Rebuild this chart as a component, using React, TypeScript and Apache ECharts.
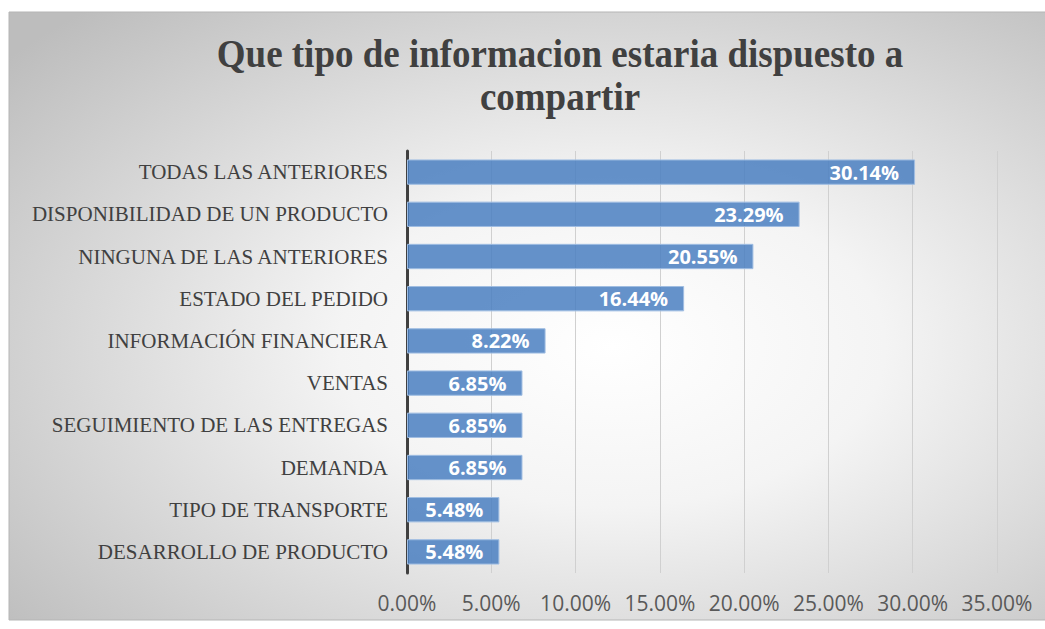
import React, { useEffect, useRef } from "react";
import * as echarts from "echarts";

const titleLines = ["Que tipo de informacion estaria dispuesto a", "compartir"];

const categories = [
  "TODAS LAS ANTERIORES",
  "DISPONIBILIDAD DE UN PRODUCTO",
  "NINGUNA DE LAS ANTERIORES",
  "ESTADO DEL PEDIDO",
  "INFORMACIÓN FINANCIERA",
  "VENTAS",
  "SEGUIMIENTO DE LAS ENTREGAS",
  "DEMANDA",
  "TIPO DE TRANSPORTE",
  "DESARROLLO DE PRODUCTO",
];

const values = [30.14, 23.29, 20.55, 16.44, 8.22, 6.85, 6.85, 6.85, 5.48, 5.48];

const axisMin = 0;
const axisMax = 35;
const axisStep = 5;

export default function App() {
  const ref = useRef<HTMLDivElement>(null);

  useEffect(() => {
    if (!ref.current) return;
    const chart = echarts.init(ref.current, null, { renderer: "svg" });
    const titleFont = "bold 37px 'Liberation Serif'";
    chart.setOption({
      animation: false,
      graphic: [
        {
          type: "rect",
          z: -10,
          silent: true,
          shape: { x: 9, y: 12, width: 1040, height: 608 },
          style: {
            fill: new echarts.graphic.RadialGradient(0.58, 0.55, 0.75, [
              { offset: 0, color: "#ffffff" },
              { offset: 0.35, color: "#f4f4f4" },
              { offset: 1, color: "#bdbdbd" },
            ]),
            stroke: "#b5b5b5",
            lineWidth: 1,
          },
        },
        {
          type: "text",
          x: 560,
          y: 34,
          scaleY: 1.08,
          silent: true,
          style: {
            text: titleLines[0],
            font: titleFont,
            fill: "#404040",
            align: "center",
            verticalAlign: "top",
          },
        },
        {
          type: "text",
          x: 560,
          y: 77,
          scaleY: 1.08,
          silent: true,
          style: {
            text: titleLines[1],
            font: titleFont,
            fill: "#404040",
            align: "center",
            verticalAlign: "top",
          },
        },
      ],
      grid: {
        left: 407,
        top: 151,
        width: 590,
        height: 422,
        containLabel: false,
      },
      xAxis: {
        type: "value",
        min: axisMin,
        max: axisMax,
        interval: axisStep,
        axisLine: { show: false },
        axisTick: { show: false },
        splitLine: { show: true, lineStyle: { color: "#d0d0d0", width: 1 } },
        axisLabel: {
          formatter: (v: number) => v.toFixed(2) + "%",
          fontFamily: "Open Sans",
          fontSize: 21,
          color: "#595959",
          margin: 19,
        },
      },
      yAxis: {
        type: "category",
        data: categories,
        inverse: true,
        axisLine: { show: true, lineStyle: { color: "#404040", width: 3 } },
        axisTick: { show: false },
        splitLine: { show: false },
        axisLabel: {
          fontFamily: "Liberation Serif",
          fontSize: 21,
          color: "#404040",
          margin: 19,
        },
      },
      series: [
        {
          type: "bar",
          data: values,
          barWidth: "60%",
          itemStyle: {
            color: "rgba(74,127,193,0.85)",
            borderColor: "#9fbde2",
            borderWidth: 1,
          },
          label: {
            show: true,
            position: "insideRight",
            distance: 16,
            formatter: (p: any) => Number(p.value).toFixed(2) + "%",
            fontFamily: "Open Sans",
            fontWeight: "bold",
            fontSize: 20,
            color: "#ffffff",
          },
        },
      ],
    });
    return () => chart.dispose();
  }, []);

  return (
    <div
      ref={ref}
      style={{ position: "absolute", left: 0, top: 0, width: 1045, height: 629 }}
    />
  );
}
